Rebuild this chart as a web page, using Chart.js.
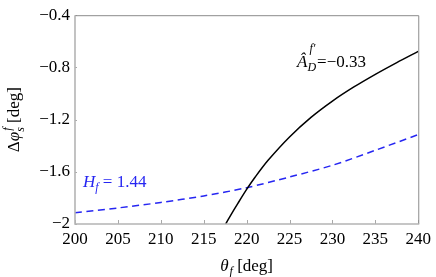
<!DOCTYPE html>
<html>
<head>
<meta charset="utf-8">
<script src="https://cdn.jsdelivr.net/npm/chart.js@4.4.0/dist/chart.umd.min.js"></script>
<style>
  html, body { margin: 0; padding: 0; background: #fff; }
</style>
</head>
<body>
<canvas id="thetaChart" width="436" height="277"></canvas>
<script>
    // values
    const thetaBlack = [217.56, 218, 219, 220, 221, 222.5, 225, 227.5, 230, 232.5, 235, 237.5, 240];
    const dphiBlack = [-2.0, -1.949, -1.84, -1.735, -1.64, -1.512, -1.333, -1.183, -1.058, -0.95, -0.853, -0.763, -0.677];
    const thetaBlue = [200, 205, 210, 215, 220, 225, 230, 235, 240];
    const dphiBlue = [-1.913, -1.877, -1.835, -1.785, -1.722, -1.64, -1.55, -1.435, -1.315];
    const xTicks = [200, 205, 210, 215, 220, 225, 230, 235, 240];
    const yTicks = [-2, -1.6, -1.2, -0.8, -0.4];

    const SERIF = "'Liberation Serif', 'DejaVu Serif', serif";
    const BLUE = '#2626f2';

    Chart.defaults.font.family = SERIF;
    Chart.defaults.font.size = 17;
    Chart.defaults.color = '#000';

    function toPoints(xs, ys) {
      return xs.map((x, i) => ({ x, y: ys[i] }));
    }

    function fmt(v) {
      return String(Math.round(v * 10) / 10).replace('-', '\u2212');
    }

    // draws a list of text runs, run.back puts it at the previous run's x (stacked sub/sup)
    function drawRuns(ctx, x, y, runs, measureOnly) {
      let cur = x, prevStart = x, maxEnd = x;
      runs.forEach(r => {
        ctx.font = (r.it ? 'italic ' : '') + r.size + 'px ' + SERIF;
        const start = r.back ? prevStart + (r.shift || 0) : cur + (r.gap || 0);
        const w = ctx.measureText(r.t).width;
        if (!measureOnly) ctx.fillText(r.t, start, y + (r.dy || 0));
        maxEnd = Math.max(maxEnd, start + w);
        if (!r.back) prevStart = start;
        cur = maxEnd;
      });
      return maxEnd - x;
    }

    const framePlugin = {
      id: 'frame',
      afterDraw(chart) {
        const { ctx, chartArea: a, scales } = chart;
        ctx.save();
        // ticks
        ctx.strokeStyle = '#a8a8a8';
        ctx.lineWidth = 1;
        xTicks.forEach(t => {
          const px = Math.round(scales.x.getPixelForValue(t)) + 0.5;
          ctx.beginPath(); ctx.moveTo(px, a.bottom); ctx.lineTo(px, a.bottom - 4); ctx.stroke();
        });
        yTicks.forEach(t => {
          const py = Math.round(scales.y.getPixelForValue(t)) + 0.5;
          ctx.beginPath(); ctx.moveTo(a.left, py); ctx.lineTo(a.left + 2, py); ctx.stroke();
        });
        // frame
        ctx.strokeStyle = '#8c8c8c';
        ctx.lineWidth = 1;
        ctx.beginPath();
        ctx.moveTo(a.left, a.top + 0.5); ctx.lineTo(a.right + 0.5, a.top + 0.5); ctx.lineTo(a.right + 0.5, a.bottom);
        ctx.stroke();
        ctx.strokeStyle = '#b4b4b4';
        ctx.lineWidth = 1.6;
        ctx.beginPath();
        ctx.moveTo(a.left, a.top); ctx.lineTo(a.left, a.bottom); ctx.lineTo(a.right + 1, a.bottom);
        ctx.stroke();

        // labels
        ctx.fillStyle = '#000';
        ctx.textBaseline = 'alphabetic';
        ctx.textAlign = 'left';

        // x title
        const xRuns = [
          { t: '\u03b8', it: true, size: 17 },
          { t: 'f', it: true, size: 12, dy: 4, gap: 1 },
          { t: ' [deg]', size: 17 }
        ];
        const xw = drawRuns(ctx, 0, 0, xRuns, true);
        drawRuns(ctx, (a.left + a.right) / 2 - xw / 2, 271, xRuns);

        // y title, rotated
        const yRuns = [
          { t: '\u0394', size: 17 },
          { t: '\u03c6', it: true, size: 17 },
          { t: 's', it: true, size: 12, dy: 5 },
          { t: 'f', it: true, size: 12, dy: -8, back: true, shift: 1 },
          { t: ' [deg]', size: 17 }
        ];
        const yw = drawRuns(ctx, 0, 0, yRuns, true);
        ctx.save();
        ctx.translate(19, (a.top + a.bottom) / 2);
        ctx.rotate(-Math.PI / 2);
        drawRuns(ctx, -yw / 2, 0, yRuns);
        ctx.restore();

        // black curve label
        drawRuns(ctx, 297, 67, [
          { t: '\u00c2', it: true, size: 17 },
          { t: 'D', it: true, size: 12, dy: 4 },
          { t: 'f\u2032', it: true, size: 12, dy: -15, back: true, shift: 2 },
          { t: '=\u22120.33', size: 17, gap: 1 }
        ]);

        // blue curve label
        ctx.fillStyle = BLUE;
        drawRuns(ctx, 83, 187, [
          { t: 'H', it: true, size: 17 },
          { t: 'f', it: true, size: 12, dy: 4 },
          { t: ' = 1.44', size: 17 }
        ]);
        ctx.restore();
      }
    };

    const ctx = document.getElementById('thetaChart').getContext('2d');
    const chart = new Chart(ctx, {
      type: 'scatter',
      data: {
        datasets: [
          {
            label: 'A_D = -0.33',
            data: toPoints(thetaBlack, dphiBlack),
            showLine: true,
            borderColor: '#000',
            borderWidth: 1.5,
            pointRadius: 0,
            tension: 0.3,
            fill: false
          },
          {
            label: 'H_f = 1.44',
            data: toPoints(thetaBlue, dphiBlue),
            showLine: true,
            borderColor: BLUE,
            borderWidth: 1.5,
            borderDash: [7, 4.5],
            pointRadius: 0,
            tension: 0.3,
            fill: false
          }
        ]
      },
      options: {
        responsive: false,
        animation: false,
        layout: { padding: { top: 10, right: 14, left: 0, bottom: 0 } },
        scales: {
          x: {
            type: 'linear',
            min: 200,
            max: 240,
            afterBuildTicks: s => { s.ticks = xTicks.map(v => ({ value: v })); },
            afterFit: s => { s.height = 53; },
            grid: { display: false, drawTicks: false },
            border: { display: false },
            ticks: {
              padding: 5,
              color: '#000',
              maxRotation: 0,
              font: { family: SERIF, size: 17 },
              callback: v => fmt(v)
            }
          },
          y: {
            type: 'linear',
            min: -2,
            max: -0.4,
            afterBuildTicks: s => { s.ticks = yTicks.map(v => ({ value: v })); },
            afterFit: s => { s.width = 75; },
            grid: { display: false, drawTicks: false },
            border: { display: false },
            ticks: {
              padding: 5,
              color: '#000',
              font: { family: SERIF, size: 17 },
              callback: v => fmt(v)
            }
          }
        },
        plugins: {
          legend: { display: false },
          tooltip: { enabled: false }
        }
      },
      plugins: [framePlugin]
    });
</script>
</body>
</html>
